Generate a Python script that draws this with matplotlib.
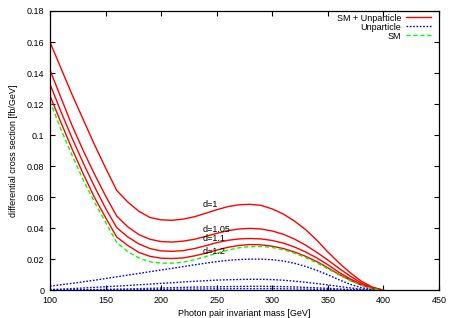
import numpy as np
import matplotlib
matplotlib.use('Agg')
import matplotlib.pyplot as plt

plt.rcParams['font.family'] = ['Liberation Sans', 'DejaVu Sans']

# photon pair invariant mass [GeV]
mass = [100, 110, 120, 130, 140, 150, 160, 170, 180, 190, 200, 210, 220, 230, 240,
        250, 260, 270, 280, 290, 300, 310, 320, 330, 340, 350, 360, 370, 380, 390, 400]

# SM + Unparticle, d = 1, 1.05, 1.1, 1.2
tot_d1 = [0.160, 0.143, 0.126, 0.110, 0.094, 0.079, 0.0645, 0.057, 0.051, 0.047, 0.0455,
          0.0452, 0.046, 0.0475, 0.0497, 0.052, 0.054, 0.0552, 0.0555, 0.0548, 0.0525,
          0.0492, 0.0447, 0.0392, 0.0324, 0.0248, 0.0178, 0.0115, 0.006, 0.0022, 0.0002]
tot_d105 = [0.142, 0.124, 0.106, 0.090, 0.075, 0.061, 0.048, 0.041, 0.036, 0.033, 0.0315,
            0.0312, 0.0318, 0.033, 0.0348, 0.0368, 0.0385, 0.0396, 0.040, 0.0396, 0.0383,
            0.0362, 0.0331, 0.0292, 0.0246, 0.0196, 0.0143, 0.0093, 0.0049, 0.0017, 0.0002]
tot_d11 = [0.133, 0.115, 0.098, 0.082, 0.067, 0.053, 0.0405, 0.0345, 0.030, 0.027, 0.0255,
           0.0252, 0.0257, 0.027, 0.0288, 0.0308, 0.0323, 0.0332, 0.0335, 0.0332, 0.0322,
           0.0305, 0.028, 0.0248, 0.021, 0.0166, 0.0117, 0.0075, 0.004, 0.0014, 0.0002]
tot_d12 = [0.1255, 0.108, 0.091, 0.075, 0.060, 0.047, 0.0345, 0.029, 0.0245, 0.022, 0.0208,
           0.0206, 0.021, 0.0223, 0.024, 0.026, 0.0278, 0.029, 0.0296, 0.0294, 0.0285,
           0.027, 0.0248, 0.022, 0.0186, 0.0146, 0.0104, 0.0067, 0.0035, 0.0012, 0.0002]

# Unparticle only
unp_d1 = [0.0028, 0.0037, 0.0046, 0.0056, 0.0066, 0.0077, 0.0088, 0.0099, 0.011, 0.0121,
          0.0132, 0.0143, 0.0154, 0.0165, 0.0176, 0.0186, 0.0194, 0.0199, 0.0202, 0.0202,
          0.0198, 0.019, 0.0175, 0.0155, 0.013, 0.0101, 0.0069, 0.004, 0.0018, 0.0006, 0.0]
unp_d105 = [0.0006, 0.0009, 0.0012, 0.0016, 0.002, 0.0024, 0.0028, 0.0032, 0.0037, 0.0041,
            0.0046, 0.005, 0.0055, 0.0059, 0.0063, 0.0067, 0.0069, 0.0071, 0.0072, 0.0072,
            0.007, 0.0066, 0.006, 0.0053, 0.0045, 0.0036, 0.0026, 0.0017, 0.0008, 0.0003, 0.0]
unp_d11 = [0.0002, 0.0003, 0.0004, 0.0005, 0.0006, 0.0007, 0.0009, 0.001, 0.0012, 0.0014,
           0.0016, 0.0018, 0.002, 0.0022, 0.0023, 0.0024, 0.0025, 0.0026, 0.0027, 0.0027,
           0.0026, 0.0025, 0.0023, 0.002, 0.0017, 0.0014, 0.001, 0.0006, 0.0003, 0.0001, 0.0]
unp_d12 = [0.0001, 0.0001, 0.0002, 0.0002, 0.0003, 0.0003, 0.0004, 0.0004, 0.0005, 0.0006,
           0.0007, 0.0008, 0.0009, 0.0009, 0.001, 0.0011, 0.0011, 0.0012, 0.0012, 0.0012,
           0.0012, 0.0011, 0.001, 0.0009, 0.0007, 0.0006, 0.0004, 0.0003, 0.0001, 0.0, 0.0]

# SM only
sm = [0.122, 0.1035, 0.087, 0.071, 0.057, 0.044, 0.031, 0.025, 0.021, 0.0185, 0.0176,
      0.0176, 0.0183, 0.0198, 0.0218, 0.024, 0.026, 0.0275, 0.0283, 0.0284, 0.0277,
      0.0262, 0.024, 0.0212, 0.0178, 0.014, 0.0100, 0.0064, 0.0033, 0.0011, 0.0]

d_labels = ['d=1', 'd=1.05', 'd=1.1', 'd=1.2']
d_label_pos = [(237, 0.0552), (237, 0.0395), (237, 0.0332), (237, 0.0248)]

fig = plt.figure(figsize=(4.54, 3.18), dpi=100)
ax = fig.add_axes([0.110, 0.0865, 0.857, 0.879])

red = '#ff0000'
blue = '#0000ff'
green = '#00ff00'
dot = (0, (1.2, 1.2))
dash = (0, (3, 2))

tots = [tot_d1, tot_d105, tot_d11, tot_d12]
unps = [unp_d1, unp_d105, unp_d11, unp_d12]
for i, (t, u) in enumerate(zip(tots, unps)):
    ax.plot(mass, t, color=red, lw=1.0, label='SM + Unparticle' if i == 0 else None)
    ax.plot(mass, u, color=blue, lw=1.0, ls=dot, label='Unparticle' if i == 0 else None)
ax.plot(mass, sm, color=green, lw=1.0, ls=dash, label='SM')

for txt, (xx, yy) in zip(d_labels, d_label_pos):
    ax.text(xx, yy, txt, fontsize=6.5, ha='left', va='center')

ax.set_xlim(100, 450)
ax.set_ylim(0, 0.18)
ax.set_xticks(np.arange(100, 451, 50))
ax.set_yticks(np.arange(0, 0.181, 0.02))
ax.set_yticklabels(['0', '0.02', '0.04', '0.06', '0.08', '0.1', '0.12', '0.14', '0.16', '0.18'])
ax.tick_params(direction='in', top=True, right=True, length=3.5, width=0.8,
               labelsize=6.5, pad=4)
for s in ax.spines.values():
    s.set_linewidth(0.9)

ax.set_xlabel('Photon pair invariant mass [GeV]', fontsize=6.5, labelpad=3)
ax.set_ylabel('differential cross section [fb/GeV]', fontsize=6.5, labelpad=6)

ax.legend(loc='upper right', frameon=False, fontsize=6.5, markerfirst=False,
          handlelength=2.8, labelspacing=0.0, handletextpad=0.55,
          bbox_to_anchor=(0.985, 0.997), borderaxespad=0.0, borderpad=0.2)

fig.savefig('out.png', dpi=100)
